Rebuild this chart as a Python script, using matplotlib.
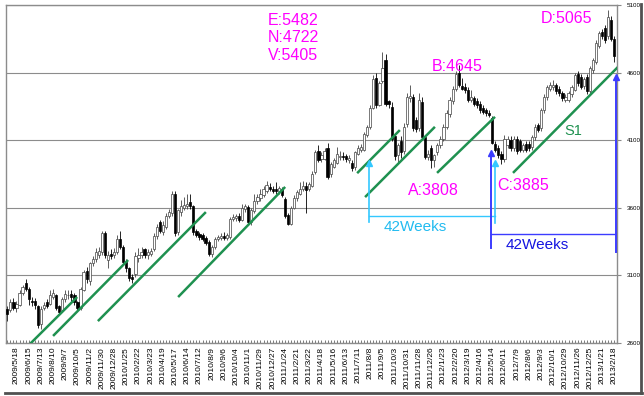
import numpy as np
import matplotlib
matplotlib.use("Agg")
import matplotlib.pyplot as plt

plt.rcParams['font.family'] = ['Liberation Sans', 'DejaVu Sans']

# weekly candles from 2009/4/27 to 2013/2/18 (200 weeks)
opens = [
    2850, 2840, 2900, 2860, 2880, 2970, 3040, 3000, 2910, 2910,
    2870, 2740, 2860, 2900, 2890, 2940, 2950, 2870, 2840, 2920,
    2950, 2960, 2950, 2900, 2860, 2990, 3130, 3060, 3190, 3220,
    3250, 3270, 3410, 3210, 3260, 3250, 3270, 3370, 3310, 3200,
    3150, 3090, 3110, 3230, 3250, 3290, 3250, 3260, 3290, 3390,
    3490, 3420, 3460, 3540, 3560, 3700, 3420, 3570, 3600, 3610,
    3640, 3610, 3425, 3405, 3400, 3375, 3345, 3255, 3310, 3370,
    3375, 3390, 3375, 3380, 3515, 3520, 3540, 3510, 3590, 3605,
    3490, 3575, 3650, 3670, 3690, 3720, 3755, 3740, 3735, 3720,
    3740, 3665, 3545, 3480, 3600, 3670, 3700, 3740, 3760, 3735,
    3760, 3860, 4020, 3960, 3960, 4040, 3850, 3900, 3930, 3975,
    3985, 3985, 3950, 3930, 3900, 4000, 4030, 4030, 4140, 4195,
    4340, 4560, 4360, 4540, 4690, 4390, 4345, 4130, 3990, 4090,
    4020, 4220, 4410, 4420, 4250, 4190, 4380, 4120, 3975, 4045,
    3955, 4010, 4060, 4110, 4200, 4290, 4390, 4480, 4600, 4500,
    4490, 4470, 4395, 4410, 4390, 4370, 4335, 4320, 4300, 4265,
    4070, 4040, 4000, 3960, 4060, 4100, 4040, 4110, 4090, 4030,
    4070, 4070, 4050, 4120, 4210, 4190, 4320, 4420, 4475, 4490,
    4505, 4480, 4445, 4400, 4400, 4440, 4470, 4590, 4570, 4500,
    4570, 4460, 4620, 4680, 4800, 4900, 4930, 4870, 4990, 4850,
]
highs = [
    2870, 2920, 2930, 2910, 2990, 3030, 3070, 3010, 2940, 2930,
    2880, 2870, 2900, 2920, 2990, 3000, 2960, 2880, 2940, 2990,
    2990, 2990, 2970, 2910, 3010, 3140, 3160, 3200, 3240, 3300,
    3310, 3430, 3430, 3280, 3290, 3300, 3400, 3430, 3320, 3220,
    3160, 3110, 3270, 3300, 3310, 3300, 3290, 3300, 3410, 3480,
    3510, 3500, 3560, 3590, 3720, 3720, 3590, 3660, 3680, 3700,
    3700, 3620, 3440, 3420, 3410, 3390, 3360, 3320, 3380, 3400,
    3410, 3420, 3410, 3530, 3550, 3550, 3560, 3625, 3630, 3620,
    3600, 3700, 3700, 3740, 3760, 3795, 3780, 3760, 3790, 3760,
    3750, 3680, 3560, 3610, 3690, 3730, 3790, 3800, 3790, 3790,
    3870, 4030, 4060, 4010, 4040, 4075, 3940, 3970, 4050, 4020,
    4010, 4000, 3990, 3950, 4020, 4060, 4070, 4160, 4210, 4360,
    4580, 4600, 4540, 4750, 4740, 4400, 4380, 4150, 4080, 4130,
    4230, 4450, 4505, 4440, 4270, 4450, 4420, 4140, 4030, 4060,
    4000, 4080, 4130, 4220, 4320, 4420, 4500, 4610, 4655, 4560,
    4520, 4490, 4470, 4430, 4410, 4390, 4360, 4340, 4320, 4280,
    4090, 4060, 4020, 4140, 4130, 4130, 4130, 4130, 4110, 4080,
    4090, 4090, 4140, 4220, 4230, 4340, 4440, 4510, 4530, 4545,
    4520, 4500, 4460, 4440, 4460, 4510, 4600, 4610, 4590, 4570,
    4590, 4650, 4710, 4840, 4910, 4920, 4950, 5065, 5020, 4870,
]
lows = [
    2760, 2830, 2840, 2830, 2870, 2950, 2980, 2880, 2870, 2850,
    2710, 2705, 2840, 2860, 2880, 2920, 2840, 2810, 2830, 2900,
    2920, 2910, 2880, 2840, 2840, 2980, 3040, 3030, 3170, 3200,
    3230, 3250, 3230, 3150, 3220, 3230, 3260, 3290, 3180, 3120,
    3060, 3040, 3090, 3200, 3230, 3230, 3220, 3240, 3280, 3370,
    3410, 3400, 3440, 3520, 3540, 3390, 3400, 3540, 3580, 3590,
    3590, 3400, 3380, 3360, 3350, 3320, 3240, 3235, 3290, 3350,
    3360, 3360, 3360, 3370, 3500, 3500, 3490, 3500, 3570, 3480,
    3470, 3560, 3630, 3650, 3680, 3710, 3720, 3710, 3700, 3700,
    3680, 3520, 3470, 3470, 3590, 3650, 3690, 3720, 3560, 3720,
    3750, 3850, 3940, 3940, 3950, 3810, 3830, 3890, 3920, 3950,
    3950, 3940, 3930, 3870, 3880, 3990, 4010, 4020, 4120, 4180,
    4330, 4340, 4350, 4520, 4350, 4340, 4090, 3950, 3940, 3970,
    4000, 4200, 4380, 4170, 4160, 4170, 4100, 3960, 3950, 3895,
    3900, 3990, 4040, 4090, 4180, 4270, 4370, 4460, 4490, 4470,
    4450, 4380, 4380, 4350, 4340, 4300, 4290, 4280, 4270, 4070,
    4010, 3970, 3920, 3940, 4040, 4020, 4020, 4000, 4010, 4010,
    4010, 4020, 4030, 4100, 4160, 4170, 4300, 4400, 4460, 4470,
    4440, 4430, 4390, 4380, 4380, 4420, 4460, 4500, 4480, 4480,
    4440, 4450, 4600, 4660, 4780, 4850, 4820, 4850, 4830, 4680,
]
closes = [
    2815, 2900, 2860, 2890, 2970, 3010, 3000, 2920, 2900, 2880,
    2730, 2850, 2880, 2875, 2950, 2970, 2860, 2830, 2920, 2960,
    2955, 2940, 2900, 2855, 3000, 3120, 3070, 3190, 3220, 3270,
    3280, 3410, 3250, 3250, 3240, 3270, 3370, 3310, 3200, 3150,
    3080, 3070, 3240, 3250, 3270, 3250, 3270, 3280, 3390, 3460,
    3430, 3470, 3540, 3570, 3700, 3410, 3580, 3610, 3620, 3630,
    3610, 3420, 3400, 3385, 3370, 3335, 3260, 3310, 3370, 3385,
    3390, 3375, 3395, 3515, 3530, 3535, 3505, 3600, 3610, 3490,
    3580, 3650, 3680, 3700, 3740, 3770, 3735, 3725, 3720, 3745,
    3690, 3535, 3480, 3600, 3670, 3715, 3740, 3760, 3730, 3775,
    3850, 4010, 3955, 3990, 4020, 3830, 3920, 3950, 4000, 3985,
    3975, 3960, 3965, 3890, 4010, 4040, 4050, 4145, 4195, 4340,
    4550, 4360, 4520, 4630, 4370, 4370, 4110, 3985, 4060, 4010,
    4200, 4420, 4430, 4190, 4180, 4400, 4120, 3975, 4000, 3950,
    3990, 4060, 4110, 4200, 4300, 4400, 4480, 4590, 4510, 4480,
    4470, 4395, 4420, 4370, 4360, 4320, 4310, 4300, 4285, 4080,
    4030, 3990, 3960, 4110, 4110, 4040, 4110, 4020, 4030, 4060,
    4030, 4040, 4120, 4200, 4175, 4320, 4420, 4490, 4505, 4505,
    4460, 4445, 4410, 4420, 4445, 4490, 4580, 4520, 4495, 4550,
    4460, 4630, 4690, 4820, 4890, 4870, 4840, 5010, 4850, 4720,
]

tick_labels = [
    "2009/5/18", "2009/6/15", "2009/7/13", "2009/8/10", "2009/9/7",
    "2009/10/5", "2009/11/2", "2009/11/30", "2009/12/28", "2010/1/25",
    "2010/2/22", "2010/3/23", "2010/4/19", "2010/5/17", "2010/6/14",
    "2010/7/12", "2010/8/9", "2010/9/6", "2010/10/4", "2010/11/1",
    "2010/11/29", "2010/12/27", "2011/1/24", "2011/2/21", "2011/3/22",
    "2011/4/18", "2011/5/16", "2011/6/13", "2011/7/11", "2011/8/8",
    "2011/9/5", "2011/10/3", "2011/10/31", "2011/11/28", "2011/12/26",
    "2012/1/23", "2012/2/20", "2012/3/19", "2012/4/16", "2012/5/14",
    "2012/6/11", "2012/7/9", "2012/8/6", "2012/9/3", "2012/10/1",
    "2012/10/29", "2012/11/26", "2012/12/25", "2013/1/21", "2013/2/18",
]
first_label_week = 3
y_ticks = [2600, 3100, 3600, 4100, 4600, 5100]

# support lines drawn on the chart, (week, price) pairs
trend_lines = [
    ((7.4, 2590), (22.9, 2938)),
    ((15.0, 2650), (39.6, 3212)),
    ((29.7, 2760), (65.1, 3567)),
    ((56.0, 2938), (91.1, 3753)),
    ((114.7, 3855), (128.7, 4174)),
    ((117.3, 3678), (140.2, 4198)),
    ((140.9, 3857), (159.9, 4272)),
    ((165.8, 3857), (200.9, 4657)),
]

GREEN = '#1f9150'
MAGENTA = '#ff00ff'
CYAN = '#33c8ff'
BLUE = '#3c3cff'

fig = plt.figure(figsize=(6.44, 3.96), dpi=100)
ax = fig.add_axes([6 / 644, 1 - 342.7 / 396, 611 / 644, 337.7 / 396])

o = np.array(opens, dtype=float)
h = np.array(highs, dtype=float)
l = np.array(lows, dtype=float)
c = np.array(closes, dtype=float)
weeks = np.arange(len(c))
up = c >= o
body_lo = np.minimum(o, c)
body_h = np.maximum(np.abs(c - o), 6)

wick_colors = ['#444444' if u else 'black' for u in up]
ax.vlines(weeks, l, h, colors=wick_colors, lw=0.6, zorder=2)
ax.bar(weeks[up], body_h[up], bottom=body_lo[up], width=0.72,
       color='white', edgecolor='#444444', linewidth=0.5, zorder=3)
ax.bar(weeks[~up], body_h[~up], bottom=body_lo[~up], width=0.72,
       color='black', edgecolor='black', linewidth=0.5, zorder=3)

for (x0, y0), (x1, y1) in trend_lines:
    ax.plot([x0, x1], [y0, y1], color=GREEN, lw=1.8, zorder=4,
            solid_capstyle='butt')

# 42 weeks brackets
ax.plot([118.6, 118.6], [3490, 3931], color=CYAN, lw=1.2, zorder=5)
ax.plot([118.6, 159.9], [3538, 3538], color=CYAN, lw=1.0, zorder=5)
ax.plot([159.9, 159.9], [3487, 3931], color=CYAN, lw=1.2, zorder=5)
ax.plot([118.6, 159.9], [3931, 3931], '^', color=CYAN, ms=5, zorder=5)

ax.plot([158.6, 158.6], [3301, 4004], color=BLUE, lw=1.4, zorder=5)
ax.plot([158.6, 199.6], [3404, 3404], color=BLUE, lw=1.0, zorder=5)
ax.plot([199.6, 199.6], [3272, 4568], color=BLUE, lw=1.4, zorder=5,
        clip_on=False)
ax.plot([158.6, 199.6], [4004, 4568], '^', color=BLUE, ms=5, zorder=5,
        clip_on=False)

ax.text(133.7, 3457, "42Weeks", color='#22bbf0', fontsize=11,
        ha='center', va='center')
ax.text(173.7, 3323, "42Weeks", color='#1414e0', fontsize=11,
        ha='center', va='center')

ax.text(93.7, 4856, "E:5482\nN:4722\nV:5405", color=MAGENTA, fontsize=11.5,
        ha='center', va='center', linespacing=1.2)
ax.text(147.4, 4642, "B:4645", color=MAGENTA, fontsize=11.5,
        ha='center', va='center')
ax.text(183.5, 5000, "D:5065", color=MAGENTA, fontsize=11.5,
        ha='center', va='center')
ax.text(139.6, 3730, "A:3808", color=MAGENTA, fontsize=11.5,
        ha='center', va='center')
ax.text(169.1, 3767, "C:3885", color=MAGENTA, fontsize=11.5,
        ha='center', va='center')
ax.text(185.5, 4167, "S1", color=GREEN, fontsize=10.5,
        ha='center', va='center')

ax.set_xlim(-0.43, 199.9)
ax.set_ylim(2600, 5100)

ax.yaxis.tick_right()
ax.set_yticks(y_ticks)
ax.set_yticklabels([str(v) for v in y_ticks])
ax.tick_params(axis='y', labelsize=4.5, length=3, color='#888888', pad=4)
ax.grid(axis='y', color='#8c8c8c', lw=0.8)
ax.set_axisbelow(True)

ax.set_xticks(first_label_week + 4 * np.arange(len(tick_labels)))
ax.set_xticklabels(tick_labels, rotation=90, fontsize=6)
ax.set_xticks(weeks, minor=True)
ax.tick_params(axis='x', which='both', direction='in', length=2,
               color='#666666', width=0.6, pad=3)

for s in ax.spines.values():
    s.set_color('#8c8c8c')
    s.set_linewidth(1.0)

# picture frame shadow
fig.add_artist(plt.Line2D([5 / 644, 642 / 644], [1 - 393 / 396] * 2,
                          color='#505050', lw=2.0, transform=fig.transFigure))
fig.add_artist(plt.Line2D([641 / 644] * 2, [1 - 393 / 396, 1 - 4 / 396],
                          color='#505050', lw=2.0, transform=fig.transFigure))

fig.savefig("out.png", dpi=100)
